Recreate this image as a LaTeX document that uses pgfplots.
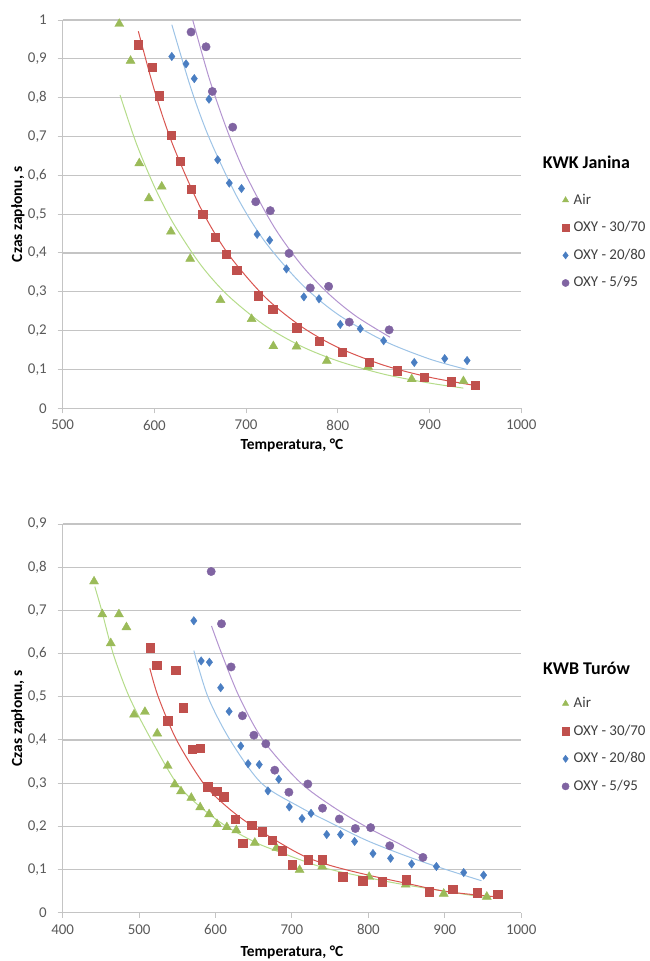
\documentclass[border=0pt]{standalone}
\usepackage{fontspec}
\setmainfont{Carlito}
\usepackage{pgfplots}
\usepackage{pgfplotstable}
\pgfplotsset{compat=1.18}

\definecolor{gridc}{HTML}{C4C4C4}
\definecolor{tickc}{HTML}{595959}
\definecolor{airc}{HTML}{9BBB59}
\definecolor{airl}{HTML}{B5DC8A}
\definecolor{redc}{HTML}{C0504D}
\definecolor{redl}{HTML}{D95550}
\definecolor{bluec}{HTML}{4A7EC2}
\definecolor{bluel}{HTML}{9DC3E6}
\definecolor{purc}{HTML}{8064A2}
\definecolor{purl}{HTML}{B394D0}

% ---------- KWK Janina ----------
\pgfplotstableread{
x y
561.7 0.990
574 0.895
583.5 0.631
594 0.541
608 0.571
618 0.455
639 0.385
672 0.279
706 0.230
729.7 0.160
755 0.159
788 0.122
833 0.107
880.6 0.075
937 0.070
}\JanAir
\pgfplotstableread{
x y
582.5 0.936
597.7 0.878
605.4 0.805
618.5 0.704
628.3 0.637
640 0.565
652.7 0.500
666 0.441
678 0.397
689.8 0.356
713.3 0.290
729 0.255
755 0.208
779.5 0.173
805 0.144
834 0.118
865 0.097
894 0.080
923.5 0.069
950 0.060
}\JanA
\pgfplotstableread{
x y
619 0.906
634.5 0.887
643.5 0.849
659.5 0.796
669 0.640
681.7 0.580
695 0.566
712 0.448
725.7 0.433
744 0.359
763 0.287
779.5 0.282
802.7 0.216
824.5 0.205
850 0.174
883.4 0.118
916.6 0.128
941 0.123
}\JanB
\pgfplotstableread{
x y
640 0.969
656.3 0.931
663.2 0.816
685.4 0.724
710.5 0.532
726.4 0.509
746.8 0.399
770 0.310
790 0.314
812.5 0.222
856 0.202
}\JanC

% ---------- KWB Turow ----------
\pgfplotstableread{
x y
441 0.767
451.8 0.691
473.6 0.691
483.4 0.661
462.9 0.624
493.4 0.459
507.6 0.465
523.7 0.415
537.4 0.340
546.6 0.297
554.8 0.281
568.3 0.266
579.9 0.244
591.6 0.228
602 0.205
614.8 0.198
627.2 0.191
651.4 0.162
679.7 0.150
710 0.099
739.6 0.107
801 0.083
848.8 0.065
898.6 0.044
955 0.037
}\TurAir
\pgfplotstableread{
x y
514.3 0.614
522.9 0.573
548 0.562
557.3 0.475
537.2 0.445
569.4 0.379
579.7 0.381
589.8 0.292
601.6 0.282
610.8 0.269
625.8 0.216
635.8 0.161
647.3 0.203
661 0.188
674.5 0.168
687 0.144
700.4 0.111
721 0.123
739.6 0.123
766.6 0.083
792.6 0.074
818.3 0.072
849.2 0.076
879.5 0.049
910.2 0.054
942.5 0.046
969 0.043
}\TurA
\pgfplotstableread{
x y
571.6 0.676
581.2 0.583
592 0.580
606.7 0.521
617.8 0.466
633 0.386
642.6 0.345
657.2 0.343
668.6 0.282
682.7 0.309
696.5 0.245
713.2 0.218
725 0.230
745.5 0.181
763.6 0.181
782 0.165
806 0.137
829.1 0.126
856.6 0.113
889 0.107
924.8 0.093
950.8 0.087
}\TurB
\pgfplotstableread{
x y
594.3 0.790
607.8 0.669
620.4 0.569
635.2 0.456
650.2 0.411
665.8 0.391
677.5 0.330
696 0.279
720.8 0.298
740 0.242
762 0.217
783 0.195
803 0.197
828 0.155
871.4 0.128
}\TurC

\pgfplotsset{
  base/.style={
    scale only axis,
    width=458.5bp,
    axis x line*=bottom, axis y line*=left,
    axis line style={draw=gridc, line width=1bp},
    ymajorgrids, grid style={draw=gridc, line width=1.2bp},
    tick align=outside, major tick length=5bp,
    tick style={draw=gridc, line width=1bp},
    ticklabel style={font=\fontsize{15}{18}\selectfont, text=tickc, inner sep=0pt},
    xticklabel style={yshift=-6.7bp},
    yticklabel style={xshift=-10.7bp},
    /pgf/number format/assume math mode=true,
    /pgf/number format/use comma,
    /pgf/number format/1000 sep={},
    xtick={400,500,600,700,800,900,1000},
    label style={font=\bfseries\fontsize{15.5}{18}\selectfont, text=black},
    ylabel style={at={(axis description cs:-0.0975,0.5)}, anchor=center, rotate=0},
    xlabel={Temperatura, °C},
    ylabel={Czas zapłonu, s},
    clip=true,
    legend cell align=left,
    legend image code/.code={\draw[##1, mark size=3.6bp] plot coordinates {(0bp,0bp)};},
    legend style={draw=none, inner sep=0pt, row sep=13.6bp, column sep=4.5bp,
      font=\fontsize{15}{18}\selectfont, text=black!75,
      nodes={inner sep=0pt, text height=11bp, text depth=3bp, anchor=west}},
  },
  sAir/.style={only marks, mark=triangle*, mark size=5.2bp, color=airc, mark options={draw=airc, fill=airc}},
  sA/.style={only marks, mark=square*, mark size=4.2bp, color=redc, mark options={draw=redc, fill=redc}},
  sB/.style={only marks, mark=diamond*, mark size=4.2bp, color=bluec, mark options={draw=bluec, fill=bluec}},
  sC/.style={only marks, mark=*, mark size=4.2bp, color=purc, mark options={draw=purc, fill=purc}},
  tl/.style={smooth, no marks, line width=1bp, forget plot},
}

\begin{document}
\begin{tikzpicture}
\path[use as bounding box] (0,0) rectangle (650bp,-961bp);

% ===== Top: KWK Janina =====
\begin{axis}[base,
  at={(62.7bp,-20bp)}, anchor=north west,
  height=388.3bp,
  xmin=500, xmax=1000, ymin=0, ymax=1,
  ytick={0,0.1,0.2,0.3,0.4,0.5,0.6,0.7,0.8,0.9,1},
  xlabel style={at={(axis description cs:0.5,-0.0946)}, anchor=center},
  legend style={at={(axis description cs:1.0885,0.5545)}, anchor=north west},
]
\addplot[sAir] table {\JanAir}; \addlegendentry{Air}
\addplot[sA] table {\JanA}; \addlegendentry{OXY - 30/70}
\addplot[sB] table {\JanB}; \addlegendentry{OXY - 20/80}
\addplot[sC] table {\JanC}; \addlegendentry{OXY - 5/95}
\addplot[tl, airl] coordinates {(562.5,0.807) (580,0.684) (600,0.571) (620,0.479) (650,0.371) (680,0.291) (720,0.214) (760,0.160) (800,0.122) (850,0.088) (900,0.065) (937,0.052)};
\addplot[tl, redl] coordinates {(582.5,0.971) (600,0.819) (620,0.679) (650,0.518) (680,0.399) (720,0.288) (760,0.211) (800,0.157) (850,0.111) (900,0.080) (951.5,0.058)};
\addplot[tl, bluel] coordinates {(619,0.988) (640,0.823) (660,0.695) (690,0.545) (720,0.431) (760,0.321) (800,0.242) (850,0.174) (900,0.127) (940.6,0.100)};
\addplot[tl, purl] coordinates {(641.8,1.0) (660,0.848) (680,0.712) (700,0.600) (730,0.469) (760,0.370) (790,0.295) (820,0.237) (857,0.183)};
\end{axis}
\node[font=\bfseries\fontsize{18}{21}\selectfont, anchor=west, inner sep=0pt] at (542.7bp,-162.7bp) {KWK Janina};

% ===== Bottom: KWB Turow =====
\begin{axis}[base,
  at={(62.7bp,-524bp)}, anchor=north west,
  height=388.7bp,
  xmin=400, xmax=1000, ymin=0, ymax=0.9,
  ytick={0,0.1,0.2,0.3,0.4,0.5,0.6,0.7,0.8,0.9},
  xlabel style={at={(axis description cs:0.5,-0.101)}, anchor=center},
  legend style={at={(axis description cs:1.0885,0.5565)}, anchor=north west},
]
\addplot[sAir] table {\TurAir}; \addlegendentry{Air}
\addplot[sA] table {\TurA}; \addlegendentry{OXY - 30/70}
\addplot[sB] table {\TurB}; \addlegendentry{OXY - 20/80}
\addplot[sC] table {\TurC}; \addlegendentry{OXY - 5/95}
\addplot[tl, airl] coordinates {(442,0.755) (451,0.70) (466,0.60) (487,0.50) (516,0.40) (549,0.30) (580,0.245) (614,0.20) (652,0.163) (680,0.143) (740,0.105) (800,0.081) (850,0.064) (954,0.035)};
\addplot[tl, redl] coordinates {(514,0.566) (525,0.50) (549,0.40) (584,0.30) (615,0.245) (649,0.20) (710,0.136) (749,0.110) (800,0.087) (850,0.068) (902,0.049) (972,0.036)};
\addplot[tl, bluel] coordinates {(571.6,0.607) (590,0.50) (619,0.40) (660,0.30) (710,0.245) (753,0.206) (797,0.168) (841,0.137) (884,0.110) (948,0.074)};
\addplot[tl, purl] coordinates {(594.7,0.664) (608,0.60) (631,0.50) (662,0.40) (710,0.303) (753,0.246) (797,0.199) (841,0.159) (871,0.130)};
\end{axis}
\node[font=\bfseries\fontsize{18}{21}\selectfont, anchor=west, inner sep=0pt] at (543bp,-668.3bp) {KWB Turów};
\end{tikzpicture}
\end{document}
